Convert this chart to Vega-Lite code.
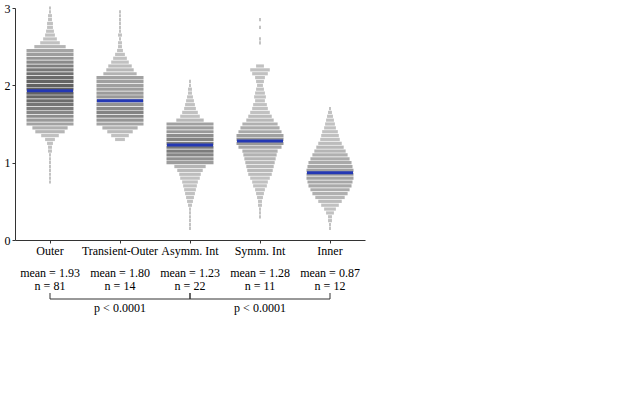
{
  "$schema": "https://vega.github.io/schema/vega-lite/v6.json",
  "padding": {"left": 4, "top": 2, "right": 5, "bottom": 5},
  "spacing": 0,
  "config": {
    "font": "Liberation Serif",
    "view": {"stroke": null},
    "axis": {"labelFont": "Liberation Serif", "labelFontSize": 12, "labelColor": "#000", "domainColor": "#333", "tickColor": "#333", "tickSize": 3, "labelPadding": 2, "grid": false, "title": null}
  },
  "datasets": {
    "swarm": [
      {"g":"Outer","v":3.00,"n":1},{"g":"Outer","v":2.95,"n":1},{"g":"Outer","v":2.90,"n":2},{"g":"Outer","v":2.85,"n":2},{"g":"Outer","v":2.80,"n":3},{"g":"Outer","v":2.75,"n":3},{"g":"Outer","v":2.70,"n":4},{"g":"Outer","v":2.65,"n":5},{"g":"Outer","v":2.60,"n":7},{"g":"Outer","v":2.55,"n":10},{"g":"Outer","v":2.50,"n":16},{"g":"Outer","v":2.45,"n":24},{"g":"Outer","v":2.40,"n":28},{"g":"Outer","v":2.35,"n":32},{"g":"Outer","v":2.30,"n":38},{"g":"Outer","v":2.25,"n":44},{"g":"Outer","v":2.20,"n":48},{"g":"Outer","v":2.15,"n":52},{"g":"Outer","v":2.10,"n":56},{"g":"Outer","v":2.05,"n":60},{"g":"Outer","v":2.00,"n":62},{"g":"Outer","v":1.95,"n":62},{"g":"Outer","v":1.90,"n":60},{"g":"Outer","v":1.85,"n":58},{"g":"Outer","v":1.80,"n":55},{"g":"Outer","v":1.75,"n":50},{"g":"Outer","v":1.70,"n":46},{"g":"Outer","v":1.65,"n":40},{"g":"Outer","v":1.60,"n":36},{"g":"Outer","v":1.55,"n":30},{"g":"Outer","v":1.50,"n":25},{"g":"Outer","v":1.45,"n":18},{"g":"Outer","v":1.40,"n":15},{"g":"Outer","v":1.35,"n":9},{"g":"Outer","v":1.30,"n":5},{"g":"Outer","v":1.25,"n":3},{"g":"Outer","v":1.20,"n":2},{"g":"Outer","v":1.15,"n":2},{"g":"Outer","v":1.10,"n":1},{"g":"Outer","v":1.05,"n":1},{"g":"Outer","v":1.00,"n":1},{"g":"Outer","v":0.95,"n":1},{"g":"Outer","v":0.90,"n":1},{"g":"Outer","v":0.85,"n":1},{"g":"Outer","v":0.80,"n":1},{"g":"Outer","v":0.75,"n":1},
      {"g":"Transient-Outer","v":2.95,"n":1},{"g":"Transient-Outer","v":2.90,"n":1},{"g":"Transient-Outer","v":2.85,"n":1},{"g":"Transient-Outer","v":2.80,"n":1},{"g":"Transient-Outer","v":2.75,"n":1},{"g":"Transient-Outer","v":2.70,"n":1},{"g":"Transient-Outer","v":2.65,"n":2},{"g":"Transient-Outer","v":2.60,"n":1},{"g":"Transient-Outer","v":2.55,"n":2},{"g":"Transient-Outer","v":2.50,"n":2},{"g":"Transient-Outer","v":2.45,"n":3},{"g":"Transient-Outer","v":2.40,"n":5},{"g":"Transient-Outer","v":2.35,"n":7},{"g":"Transient-Outer","v":2.30,"n":9},{"g":"Transient-Outer","v":2.25,"n":12},{"g":"Transient-Outer","v":2.20,"n":14},{"g":"Transient-Outer","v":2.15,"n":17},{"g":"Transient-Outer","v":2.10,"n":25},{"g":"Transient-Outer","v":2.05,"n":26},{"g":"Transient-Outer","v":2.00,"n":27},{"g":"Transient-Outer","v":1.95,"n":28},{"g":"Transient-Outer","v":1.90,"n":29},{"g":"Transient-Outer","v":1.85,"n":30},{"g":"Transient-Outer","v":1.80,"n":32},{"g":"Transient-Outer","v":1.75,"n":33},{"g":"Transient-Outer","v":1.70,"n":38},{"g":"Transient-Outer","v":1.65,"n":42},{"g":"Transient-Outer","v":1.60,"n":40},{"g":"Transient-Outer","v":1.55,"n":32},{"g":"Transient-Outer","v":1.50,"n":24},{"g":"Transient-Outer","v":1.45,"n":18},{"g":"Transient-Outer","v":1.40,"n":13},{"g":"Transient-Outer","v":1.35,"n":9},{"g":"Transient-Outer","v":1.30,"n":5},
      {"g":"Asymm. Int","v":2.05,"n":1},{"g":"Asymm. Int","v":2.00,"n":1},{"g":"Asymm. Int","v":1.95,"n":2},{"g":"Asymm. Int","v":1.90,"n":2},{"g":"Asymm. Int","v":1.85,"n":3},{"g":"Asymm. Int","v":1.80,"n":4},{"g":"Asymm. Int","v":1.75,"n":5},{"g":"Asymm. Int","v":1.70,"n":6},{"g":"Asymm. Int","v":1.65,"n":8},{"g":"Asymm. Int","v":1.60,"n":10},{"g":"Asymm. Int","v":1.55,"n":14},{"g":"Asymm. Int","v":1.50,"n":26},{"g":"Asymm. Int","v":1.45,"n":28},{"g":"Asymm. Int","v":1.40,"n":30},{"g":"Asymm. Int","v":1.35,"n":36},{"g":"Asymm. Int","v":1.30,"n":42},{"g":"Asymm. Int","v":1.25,"n":46},{"g":"Asymm. Int","v":1.20,"n":48},{"g":"Asymm. Int","v":1.15,"n":46},{"g":"Asymm. Int","v":1.10,"n":40},{"g":"Asymm. Int","v":1.05,"n":34},{"g":"Asymm. Int","v":1.00,"n":28},{"g":"Asymm. Int","v":0.95,"n":16},{"g":"Asymm. Int","v":0.90,"n":13},{"g":"Asymm. Int","v":0.85,"n":11},{"g":"Asymm. Int","v":0.80,"n":10},{"g":"Asymm. Int","v":0.75,"n":8},{"g":"Asymm. Int","v":0.70,"n":7},{"g":"Asymm. Int","v":0.65,"n":6},{"g":"Asymm. Int","v":0.60,"n":5},{"g":"Asymm. Int","v":0.55,"n":4},{"g":"Asymm. Int","v":0.50,"n":3},{"g":"Asymm. Int","v":0.45,"n":2},{"g":"Asymm. Int","v":0.40,"n":1},{"g":"Asymm. Int","v":0.35,"n":1},{"g":"Asymm. Int","v":0.30,"n":1},{"g":"Asymm. Int","v":0.25,"n":1},{"g":"Asymm. Int","v":0.20,"n":1},{"g":"Asymm. Int","v":0.15,"n":1},
      {"g":"Symm. Int","v":2.85,"n":1},{"g":"Symm. Int","v":2.75,"n":1},{"g":"Symm. Int","v":2.60,"n":1},{"g":"Symm. Int","v":2.55,"n":1},{"g":"Symm. Int","v":2.25,"n":4},{"g":"Symm. Int","v":2.20,"n":10},{"g":"Symm. Int","v":2.15,"n":8},{"g":"Symm. Int","v":2.10,"n":5},{"g":"Symm. Int","v":2.05,"n":4},{"g":"Symm. Int","v":2.00,"n":3},{"g":"Symm. Int","v":1.95,"n":4},{"g":"Symm. Int","v":1.90,"n":5},{"g":"Symm. Int","v":1.85,"n":6},{"g":"Symm. Int","v":1.80,"n":5},{"g":"Symm. Int","v":1.75,"n":7},{"g":"Symm. Int","v":1.70,"n":8},{"g":"Symm. Int","v":1.65,"n":10},{"g":"Symm. Int","v":1.60,"n":12},{"g":"Symm. Int","v":1.55,"n":14},{"g":"Symm. Int","v":1.50,"n":18},{"g":"Symm. Int","v":1.45,"n":20},{"g":"Symm. Int","v":1.40,"n":22},{"g":"Symm. Int","v":1.35,"n":26},{"g":"Symm. Int","v":1.30,"n":32},{"g":"Symm. Int","v":1.25,"n":30},{"g":"Symm. Int","v":1.20,"n":22},{"g":"Symm. Int","v":1.15,"n":18},{"g":"Symm. Int","v":1.10,"n":17},{"g":"Symm. Int","v":1.05,"n":16},{"g":"Symm. Int","v":1.00,"n":15},{"g":"Symm. Int","v":0.95,"n":14},{"g":"Symm. Int","v":0.90,"n":13},{"g":"Symm. Int","v":0.85,"n":12},{"g":"Symm. Int","v":0.80,"n":10},{"g":"Symm. Int","v":0.75,"n":8},{"g":"Symm. Int","v":0.70,"n":7},{"g":"Symm. Int","v":0.65,"n":5},{"g":"Symm. Int","v":0.60,"n":4},{"g":"Symm. Int","v":0.55,"n":3},{"g":"Symm. Int","v":0.50,"n":2},{"g":"Symm. Int","v":0.45,"n":2},{"g":"Symm. Int","v":0.40,"n":1},{"g":"Symm. Int","v":0.35,"n":1},{"g":"Symm. Int","v":0.30,"n":1},
      {"g":"Inner","v":1.70,"n":1},{"g":"Inner","v":1.65,"n":2},{"g":"Inner","v":1.60,"n":3},{"g":"Inner","v":1.55,"n":4},{"g":"Inner","v":1.50,"n":5},{"g":"Inner","v":1.45,"n":6},{"g":"Inner","v":1.40,"n":8},{"g":"Inner","v":1.35,"n":9},{"g":"Inner","v":1.30,"n":10},{"g":"Inner","v":1.25,"n":12},{"g":"Inner","v":1.20,"n":14},{"g":"Inner","v":1.15,"n":16},{"g":"Inner","v":1.10,"n":18},{"g":"Inner","v":1.05,"n":20},{"g":"Inner","v":1.00,"n":22},{"g":"Inner","v":0.95,"n":23},{"g":"Inner","v":0.90,"n":25},{"g":"Inner","v":0.85,"n":30},{"g":"Inner","v":0.80,"n":25},{"g":"Inner","v":0.75,"n":23},{"g":"Inner","v":0.70,"n":22},{"g":"Inner","v":0.65,"n":20},{"g":"Inner","v":0.60,"n":18},{"g":"Inner","v":0.55,"n":15},{"g":"Inner","v":0.50,"n":12},{"g":"Inner","v":0.45,"n":9},{"g":"Inner","v":0.40,"n":6},{"g":"Inner","v":0.35,"n":4},{"g":"Inner","v":0.30,"n":2},{"g":"Inner","v":0.25,"n":2},{"g":"Inner","v":0.20,"n":1},{"g":"Inner","v":0.15,"n":1}
    ],
    "stats": [
      {"g":"Outer","mean":1.93,"n":81},
      {"g":"Transient-Outer","mean":1.80,"n":14},
      {"g":"Asymm. Int","mean":1.23,"n":22},
      {"g":"Symm. Int","mean":1.28,"n":11},
      {"g":"Inner","mean":0.87,"n":12}
    ],
    "brackets": [
      {"from":"Outer","to":"Asymm. Int","mid":"Transient-Outer","p":"p < 0.0001"},
      {"from":"Asymm. Int","to":"Inner","mid":"Symm. Int","p":"p < 0.0001"}
    ]
  },
  "vconcat": [
    {
      "width": 350,
      "height": 232,
      "layer": [
        {
          "data": {"name": "swarm"},
          "mark": {"type": "tick", "thickness": 3.2},
          "encoding": {
            "x": {"field": "g", "type": "nominal", "scale": {"domain": ["Outer","Transient-Outer","Asymm. Int","Symm. Int","Inner"], "paddingInner": 0, "paddingOuter": 0}, "axis": {"labelAngle": 0}},
            "y": {"field": "v", "type": "quantitative", "scale": {"domain": [0, 3], "nice": false}, "axis": {"values": [0,1,2,3], "format": "d"}},
            "size": {"field": "n", "type": "quantitative", "scale": {"domain": [0, 24], "range": [0, 47], "clamp": true}, "legend": null},
            "color": {"field": "n", "type": "quantitative", "scale": {"domain": [10, 62], "range": ["#a6a6a6", "#1e1e1e"], "clamp": true}, "legend": null}
          }
        },
        {
          "data": {"name": "stats"},
          "mark": {"type": "tick", "thickness": 3, "size": 46, "color": "#2438b4", "opacity": 1},
          "encoding": {
            "x": {"field": "g", "type": "nominal"},
            "y": {"field": "mean", "type": "quantitative"}
          }
        }
      ]
    },
    {
      "width": 350,
      "height": 34,
      "data": {"name": "stats"},
      "transform": [{"calculate": "'mean = ' + format(datum.mean, '.2f') + '\\n' + 'n = ' + datum.n", "as": "lines"}],
      "mark": {"type": "text", "lineBreak": "\n", "lineHeight": 13, "fontSize": 12, "baseline": "middle", "color": "#000"},
      "encoding": {
        "x": {"field": "g", "type": "nominal", "scale": {"domain": ["Outer","Transient-Outer","Asymm. Int","Symm. Int","Inner"], "paddingInner": 0, "paddingOuter": 0}, "axis": null},
        "text": {"field": "lines", "type": "nominal"}
      }
    },
    {
      "width": 350,
      "height": 6,
      "data": {"name": "brackets"},
      "layer": [
        {
          "mark": {"type": "rule", "color": "#333", "strokeWidth": 1},
          "encoding": {
            "x": {"field": "from", "type": "nominal", "scale": {"domain": ["Outer","Transient-Outer","Asymm. Int","Symm. Int","Inner"], "paddingInner": 0, "paddingOuter": 0}, "axis": null},
            "x2": {"field": "to"},
            "y": {"datum": 0, "type": "quantitative", "scale": {"domain": [0, 1]}, "axis": null}
          }
        },
        {
          "mark": {"type": "rule", "color": "#333", "strokeWidth": 1},
          "encoding": {
            "x": {"field": "from", "type": "nominal"},
            "y": {"datum": 0, "type": "quantitative"},
            "y2": {"datum": 1}
          }
        },
        {
          "mark": {"type": "rule", "color": "#333", "strokeWidth": 1},
          "encoding": {
            "x": {"field": "to", "type": "nominal"},
            "y": {"datum": 0, "type": "quantitative"},
            "y2": {"datum": 1}
          }
        }
      ]
    },
    {
      "width": 350,
      "height": 16,
      "data": {"name": "brackets"},
      "mark": {"type": "text", "fontSize": 12, "baseline": "middle", "color": "#000"},
      "encoding": {
        "x": {"field": "mid", "type": "nominal", "scale": {"domain": ["Outer","Transient-Outer","Asymm. Int","Symm. Int","Inner"], "paddingInner": 0, "paddingOuter": 0}, "axis": null},
        "text": {"field": "p", "type": "nominal"}
      }
    }
  ]
}
